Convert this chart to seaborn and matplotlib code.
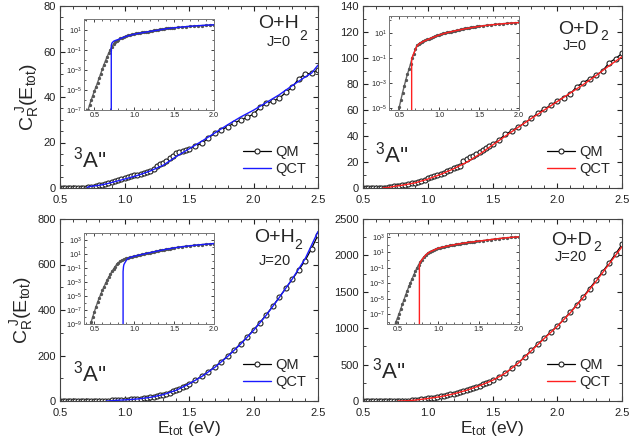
import numpy as np
import pandas as pd
import matplotlib
matplotlib.use("Agg")
import matplotlib.pyplot as plt
from matplotlib.ticker import MultipleLocator, FixedLocator, NullFormatter
import seaborn as sns

# ---------------- data ----------------
E_qm = [0.40, 0.42, 0.44, 0.46, 0.48, 0.50, 0.52, 0.54, 0.56, 0.58, 0.60, 0.62, 0.64, 0.66,
        0.68, 0.70, 0.72, 0.74, 0.76, 0.78, 0.80,
        0.825, 0.85, 0.875, 0.90, 0.925, 0.95, 0.975, 1.00, 1.025, 1.05, 1.075, 1.10, 1.125,
        1.15, 1.175, 1.20, 1.225, 1.25, 1.275, 1.30, 1.325, 1.35, 1.375, 1.40, 1.425, 1.45,
        1.475, 1.50,
        1.55, 1.60, 1.65, 1.70, 1.75, 1.80, 1.85, 1.90, 1.95, 2.00, 2.05, 2.10, 2.15, 2.20,
        2.25, 2.30, 2.35, 2.40, 2.45, 2.50]

qm_H2_J0 = [3e-8, 1e-7, 3.2e-7, 1e-6, 2.8e-6, 7.9e-6, 2e-5, 5.6e-5, 1.6e-4, 4.5e-4, 1.26e-3,
            3.5e-3, 8.9e-3, 0.022, 0.05, 0.11, 0.22, 0.4, 0.63, 0.89, 1.1,
            1.45, 1.8, 2.2, 2.6, 3.0, 3.4, 3.85, 4.3, 4.7, 5.1, 5.5, 5.9, 6.3, 6.7, 7.1, 7.6,
            8.2, 9.8, 10.4, 11.1, 12.0, 13.0, 14.1, 15.2, 15.7, 16.2, 16.8, 17.3,
            18.5, 19.6, 22.0, 24.0, 25.5, 27.0, 28.5, 29.9, 31.0, 32.5, 35.5, 37.2, 38.2, 39.4,
            42.0, 44.3, 48.0, 50.1, 50.4, 52.0]

qm_D2_J0 = [3e-8, 1e-7, 3.5e-7, 1.26e-6, 4e-6, 1.4e-5, 5e-5, 1.8e-4, 5.6e-4, 1.8e-3, 5e-3,
            0.0126, 0.035, 0.1, 0.22, 0.5, 1.0, 1.3, 1.6, 1.9, 2.2,
            2.6, 3.0, 3.5, 4.0, 4.8, 5.6, 6.5, 7.4, 8.2, 9.0, 9.9, 10.8, 11.8, 12.9, 14.0, 15.1,
            16.2, 17.2, 20.8, 22.0, 23.5, 25.0, 26.4, 27.9, 29.4, 30.9, 32.3, 33.8,
            37.0, 41.3, 44.0, 47.2, 50.0, 53.6, 57.5, 61.0, 63.5, 67.2, 69.5, 72.3, 78.0, 81.0,
            84.0, 86.9, 90.0, 96.4, 99.5, 103.6]

qm_H2_J20 = [2e-11, 1e-10, 3.2e-10, 2e-9, 1.1e-8, 5.6e-8, 2.8e-7, 1.26e-6, 5e-6, 1.8e-5, 6.3e-5,
             2e-4, 6.3e-4, 1.8e-3, 5e-3, 0.0126, 0.032, 0.07, 0.16, 0.32, 0.56,
             1.0, 1.4, 1.9, 2.5, 3.0, 3.6, 4.3, 5.0, 5.9, 6.8, 7.9, 9.0, 10.5, 12.0, 14.0, 16.0,
             18.8, 21.5, 24.7, 28.0, 32.5, 37.0, 42.0, 47.0, 53.5, 60.0, 68.0, 76.0,
             92, 110, 129, 150, 173, 198, 224, 252, 281, 312, 345, 380, 417, 456,
             495, 535, 575, 617, 670, 730]

qm_D2_J20 = [4e-11, 1.5e-10, 6.3e-10, 2.5e-9, 1e-8, 3.5e-8, 1.26e-7, 5e-7, 2e-6, 7.9e-6, 3.2e-5,
             1.1e-4, 4e-4, 1.26e-3, 4e-3, 0.012, 0.035, 0.1, 0.25, 0.56, 1.17,
             2.6, 5.0, 8.3, 12.6, 16.6, 21.4, 28, 36, 42, 48, 55, 62, 71, 80, 90, 100,
             112, 124, 137, 150, 165, 180, 196, 212, 229, 247, 266, 285,
             325, 385, 449, 525, 609, 695, 785, 865, 950, 1030, 1120, 1220, 1320, 1430,
             1545, 1660, 1776, 1895, 2020, 2150]

E_qct_H2_J0 = [0.712, 0.712, 0.72, 0.74, 0.76, 0.80, 0.85, 0.90, 1.0, 1.1, 1.2, 1.3, 1.4, 1.5,
               1.6, 1.7, 1.8, 1.9, 2.0, 2.1, 2.2, 2.3, 2.4, 2.45, 2.5]
qct_H2_J0 = [1e-14, 0.3, 0.5, 0.75, 0.9, 1.15, 1.7, 2.4, 3.9, 5.5, 7.5, 10.0, 13.8, 17.2,
             20.6, 24.2, 27.8, 31.2, 34.2, 37.6, 41.0, 45.0, 48.8, 50.5, 54.0]

E_qct_D2_J0 = [0.654, 0.654, 0.67, 0.70, 0.72, 0.75, 0.80, 0.90, 1.0, 1.1, 1.2, 1.3, 1.4, 1.5,
               1.6, 1.7, 1.8, 1.9, 2.0, 2.1, 2.2, 2.3, 2.4, 2.5]
qct_D2_J0 = [1e-14, 0.09, 0.16, 0.45, 0.9, 1.4, 2.1, 3.9, 6.8, 10.5, 14.8, 19.8, 26.0, 33.0,
             40.0, 46.8, 53.5, 60.0, 66.5, 73.0, 79.5, 86.5, 94.0, 101.0]

E_qct_H2_J20 = [0.86, 0.86, 0.865, 0.87, 0.88, 0.90, 0.92, 0.95, 1.0, 1.1, 1.2, 1.3, 1.4, 1.5,
                1.6, 1.7, 1.8, 1.9, 2.0, 2.1, 2.2, 2.3, 2.4, 2.5]
qct_H2_J20 = [1e-14, 0.03, 0.15, 0.3, 0.5, 1.2, 2.2, 3.3, 4.8, 8.8, 16, 28, 47, 75,
              108, 148, 196, 250, 310, 378, 455, 536, 625, 745]

E_qct_D2_J20 = [0.77, 0.77, 0.78, 0.80, 0.85, 0.90, 1.0, 1.1, 1.2, 1.3, 1.4, 1.5,
                1.6, 1.7, 1.8, 1.9, 2.0, 2.1, 2.2, 2.3, 2.4, 2.5]
qct_D2_J20 = [1e-14, 0.25, 0.5, 1.1, 4.8, 12, 34, 60, 98, 148, 210, 283,
              383, 522, 690, 860, 1025, 1210, 1420, 1645, 1880, 2120]

# ---------------- style ----------------
sns.set_style("ticks")
plt.rcParams['font.family'] = ['Liberation Sans', 'DejaVu Sans']
plt.rcParams['mathtext.fontset'] = 'custom'
plt.rcParams['mathtext.rm'] = 'Liberation Sans'
plt.rcParams['mathtext.it'] = 'Liberation Sans:italic'
plt.rcParams['mathtext.bf'] = 'Liberation Sans:bold'
plt.rcParams['axes.edgecolor'] = '#444444'

W, H = 631, 443
fig = plt.figure(figsize=(W / 100, H / 100), dpi=100)


def fr(x0, y0, x1, y1):
    return [x0 / W, 1 - y1 / H, (x1 - x0) / W, (y1 - y0) / H]


panels = [
    dict(main=fr(60, 6, 318, 188), inset=fr(84, 19, 214, 110), qm=qm_H2_J0,
         eq=E_qct_H2_J0, qct=qct_H2_J0, col='#1a1aff', ylim=(0, 80), ymaj=20, ymin=5,
         ilim=(1e-7, 1.3e2), iexp=[-7, -5, -3, 1, -1], mol='H', J='J=0',
         molpos=(258, 24), subpos=(299, 36), Jpos=(279, 42), Apos=(90, 160), ylabel=True,
         xlabel=False),
    dict(main=fr(363, 6, 622, 188), inset=fr(389, 16, 519, 110), qm=qm_D2_J0,
         eq=E_qct_D2_J0, qct=qct_D2_J0, col='#ff2020', ylim=(0, 140), ymaj=20, ymin=10,
         ilim=(7.5e-6, 2.2e2), iexp=[-5, -3, -1, 1], mol='D', J='J=0',
         molpos=(558, 29), subpos=(600, 36), Jpos=(575, 46), Apos=(392, 155), ylabel=False,
         xlabel=False),
    dict(main=fr(60, 219, 318, 401), inset=fr(84, 233, 214, 324), qm=qm_H2_J20,
         eq=E_qct_H2_J20, qct=qct_H2_J20, col='#1a1aff', ylim=(0, 800), ymaj=200, ymin=100,
         ilim=(1e-9, 1e4), iexp=[-9, -7, -5, -3, -1, 1, 3], mol='H', J='J=20',
         molpos=(254, 238), subpos=(294, 245), Jpos=(275, 261), Apos=(90, 374), ylabel=True,
         xlabel=True),
    dict(main=fr(363, 219, 622, 401), inset=fr(387, 233, 519, 324), qm=qm_D2_J20,
         eq=E_qct_D2_J20, qct=qct_D2_J20, col='#ff2020', ylim=(0, 2500), ymaj=500, ymin=250,
         ilim=(5.6e-9, 3.2e3), iexp=[-7, -5, -3, -1, 1, 3], mol='D', J='J=20',
         molpos=(551, 240), subpos=(593, 247), Jpos=(571, 257), Apos=(389, 371), ylabel=False,
         xlabel=True),
]

for p in panels:
    ax = fig.add_axes(p['main'])
    sns.lineplot(x=E_qm, y=p['qm'], ax=ax, color='black', linewidth=0.9, marker='o',
                 markersize=3.6, markerfacecolor='white', markeredgecolor='#222222',
                 markeredgewidth=0.8, estimator=None, sort=False, label='QM')
    sns.lineplot(x=p['eq'], y=p['qct'], ax=ax, color=p['col'], linewidth=1.0,
                 estimator=None, sort=False, label='QCT')
    ax.set_xlim(0.5, 2.5)
    ax.set_ylim(*p['ylim'])
    ax.xaxis.set_major_locator(MultipleLocator(0.5))
    ax.xaxis.set_minor_locator(MultipleLocator(0.1))
    ax.yaxis.set_major_locator(MultipleLocator(p['ymaj']))
    ax.yaxis.set_minor_locator(MultipleLocator(p['ymin']))
    ax.set_xticks([0.5, 1.0, 1.5, 2.0, 2.5])
    ax.set_xticklabels(['0.5', '1.0', '1.5', '2.0', '2.5'])
    ax.tick_params(which='both', direction='in', top=True, right=True, labelsize=8,
                   colors='#222222')
    ax.tick_params(axis='x', pad=5)
    ax.tick_params(axis='y', pad=3)
    ax.tick_params(which='major', length=3.5, width=0.8)
    ax.tick_params(which='minor', length=2, width=0.6)
    ax.set_xlabel('')
    ax.set_ylabel('')
    ax.legend(loc='lower right', bbox_to_anchor=(1.0, 0.0), frameon=False,
              fontsize=10.5, handlelength=1.9, labelspacing=0.25, handletextpad=0.3,
              borderaxespad=0.4)

    # annotations (figure pixel coordinates)
    def ftxt(x, y, s, size, ha='center'):
        fig.text(x / W, 1 - y / H, s, fontsize=size, ha=ha, va='center')

    ftxt(p['molpos'][0], p['molpos'][1], 'O+' + p['mol'], 14, ha='left')
    ftxt(p['subpos'][0], p['subpos'][1], '2', 10, ha='left')
    ftxt(p['Jpos'][0], p['Jpos'][1], p['J'], 10.5)
    ftxt(p['Apos'][0], p['Apos'][1], r"$^\mathregular{3}$A''", 16)
    if p['ylabel']:
        ax.set_ylabel(r'C$_\mathregular{R}^{\ \mathregular{J}}$(E$_\mathregular{tot}$)',
                      fontsize=14, labelpad=2)
    if p['xlabel']:
        ax.set_xlabel(r'E$_\mathregular{tot}$ (eV)', fontsize=12.5, labelpad=1)

    # inset
    ia = fig.add_axes(p['inset'])
    sns.lineplot(x=E_qm, y=p['qm'], ax=ia, color='#666666', linewidth=1.0, marker='o',
                 markersize=1.6, markerfacecolor='#555555', markeredgecolor='#555555',
                 estimator=None, sort=False)
    sns.lineplot(x=p['eq'], y=p['qct'], ax=ia, color=p['col'], linewidth=1.0,
                 estimator=None, sort=False)
    ia.set_yscale('log')
    ia.set_xlim(0.37, 2.0)
    ia.set_ylim(*p['ilim'])
    ia.set_xticks([0.5, 1.0, 1.5, 2.0])
    ia.set_xticklabels(['0.5', '1.0', '1.5', '2.0'])
    ia.xaxis.set_minor_locator(MultipleLocator(0.1))
    maj = sorted(p['iexp'])
    ia.yaxis.set_major_locator(FixedLocator([10.0 ** e for e in maj]))
    ia.set_yticklabels(['10$^{\\mathregular{%d}}$' % e for e in maj])
    lo = int(np.floor(np.log10(p['ilim'][0])))
    hi = int(np.ceil(np.log10(p['ilim'][1])))
    ia.yaxis.set_minor_locator(FixedLocator([10.0 ** e for e in range(lo, hi + 1)]))
    ia.yaxis.set_minor_formatter(NullFormatter())
    ia.tick_params(which='both', direction='in', top=True, right=True, labelsize=5.2,
                   colors='#222222', pad=1.5)
    ia.tick_params(which='major', length=2.5, width=0.6)
    ia.tick_params(which='minor', length=1.5, width=0.5)
    for s in ia.spines.values():
        s.set_linewidth(0.7)
        s.set_color('#777777')
    ia.set_xlabel('')
    ia.set_ylabel('')

fig.savefig('out.png', dpi=100)
